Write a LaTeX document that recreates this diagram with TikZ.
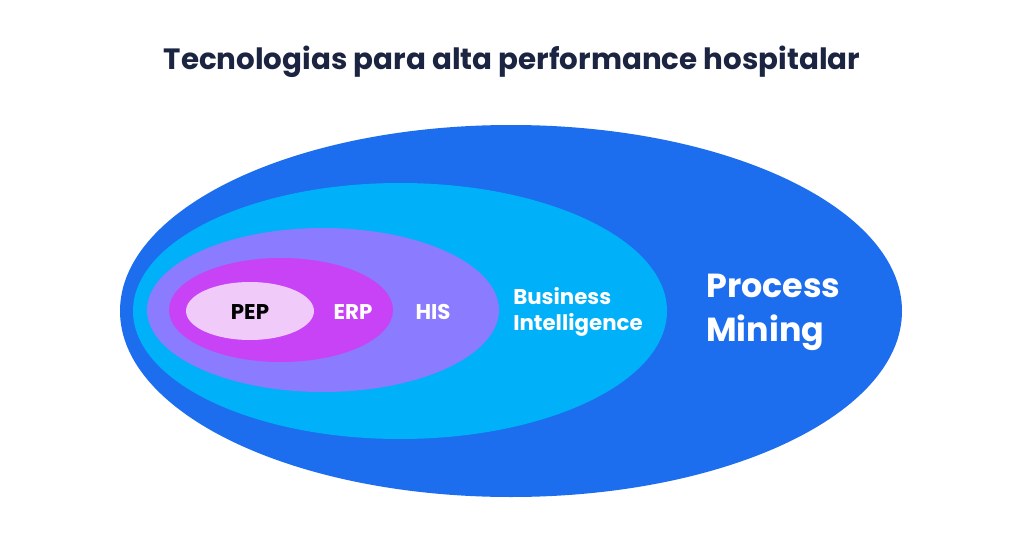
\documentclass[tikz,border=0pt]{standalone}
\usepackage{fontspec}
\setmainfont{Poppins}
\begin{document}
\begin{tikzpicture}[x=0.75pt,y=-0.75pt,
  lbl/.style={font=\bfseries\fontsize{16}{19}\selectfont,text=white,inner sep=0pt}]
\definecolor{c1}{HTML}{1C6EEE}
\definecolor{c2}{HTML}{00B0F8}
\definecolor{c3}{HTML}{8A7BFF}
\definecolor{c4}{HTML}{C842F6}
\definecolor{c5}{HTML}{F0CBFA}
\definecolor{navy}{HTML}{1B2440}
\useasboundingbox (0,0) rectangle (1024,535);
\fill[white] (0,0) rectangle (1024,535);
\fill[c1] (511,311) ellipse [x radius=391,y radius=186];
\fill[c2] (400,311) ellipse [x radius=267,y radius=128];
\fill[c3] (323,310) ellipse [x radius=176,y radius=82];
\fill[c4] (281,310) ellipse [x radius=112,y radius=52];
\fill[c5] (250,311) ellipse [x radius=64,y radius=29];
\node[font=\bfseries\fontsize{22}{26}\selectfont,text=navy] (title) at (512,62) {Tecnologias para alta performance hospitalar};
\node[lbl,text=black] (pep) at (250,312) {PEP};
\node[lbl] (erp) at (353,312) {ERP};
\node[lbl] (his) at (433,312) {HIS};
\node[lbl,anchor=west,align=left] (bi) at (513,312) {Business\\Intelligence};
\node[lbl,anchor=west,align=left,font=\bfseries\fontsize{25}{33}\selectfont] (pm) at (706,312) {Process\\Mining};
\end{tikzpicture}
\end{document}
